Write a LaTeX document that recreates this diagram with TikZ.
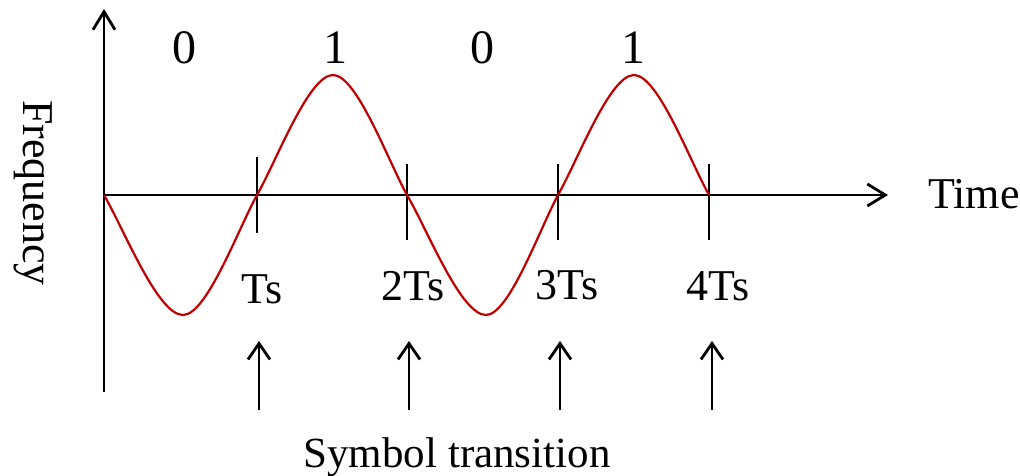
\documentclass[tikz,border=0pt]{standalone}
\usepackage{fontspec}
\setmainfont{Liberation Serif}
\usetikzlibrary{arrows.meta}
\definecolor{wavered}{RGB}{192,0,0}
\begin{document}
\begin{tikzpicture}[x=1pt,y=-1pt,
  axis/.style={line width=2.8pt,-{Straight Barb[length=18pt,width=22pt,line width=2.8pt]}},
  tick/.style={line width=2.6pt},
  marker/.style={line width=2.8pt,-{Straight Barb[length=16pt,width=22pt,line width=2.8pt]}},
  wave/.style={wavered,line width=2.2pt,line join=round},
  lbl/.style={inner sep=0pt,anchor=base,font=\fontsize{44}{48}\selectfont},
  bit/.style={inner sep=0pt,anchor=base,font=\fontsize{48}{52}\selectfont}]
\useasboundingbox (0,0) rectangle (1020,476);
% axes
\coordinate (O) at (104,195);
\coordinate (ybot) at (104,392);
\coordinate (ytop) at (104,9);
\coordinate (xend) at (888,195);
\draw[axis] (ybot) -- (ytop);
\draw[axis] (O) -- (xend);
% ticks
\coordinate (t1a) at (257,157); \coordinate (t1b) at (257,233);
\coordinate (t2a) at (407,164); \coordinate (t2b) at (407,240);
\coordinate (t3a) at (558,164); \coordinate (t3b) at (558,240);
\coordinate (t4a) at (709,164); \coordinate (t4b) at (709,240);
\draw[tick] (t1a) -- (t1b);
\draw[tick] (t2a) -- (t2b);
\draw[tick] (t3a) -- (t3b);
\draw[tick] (t4a) -- (t4b);
% wave
\coordinate (c0) at (104,195);
\coordinate (p1) at (183,315);
\coordinate (c1) at (257,195);
\coordinate (p2) at (333,75);
\coordinate (c2) at (407,195);
\coordinate (p3) at (486,315);
\coordinate (c3) at (558,195);
\coordinate (p4) at (634,75);
\coordinate (c4) at (709,195);
\draw[wave] (c0)
  .. controls (124.2,229.8) and (157.7,315) .. (p1)
  .. controls (206.7,315) and (237.8,229.8) .. (c1)
  .. controls (276.8,160.2) and (308.7,75) .. (p2)
  .. controls (356.7,75) and (387.8,160.2) .. (c2)
  .. controls (427.5,229.8) and (460.7,315) .. (p3)
  .. controls (509,315) and (539.3,229.8) .. (c3)
  .. controls (577.8,160.2) and (609.7,75) .. (p4)
  .. controls (658,75) and (689.5,160.2) .. (c4);
% bits
\node[bit] (b1) at (184,64) {0};
\node[bit] (b2) at (335,64) {1};
\node[bit] (b3) at (482,64) {0};
\node[bit] (b4) at (633,64) {1};
% labels
\node[lbl,anchor=base west] (time) at (928,208) {Time};
\node[lbl,rotate=-90,anchor=center] (freq) at (33,193) {Frequency};
\node[lbl] (ts1) at (262,303) {Ts};
\node[lbl] (ts2) at (413,300) {2Ts};
\node[lbl] (ts3) at (567,299) {3Ts};
\node[lbl] (ts4) at (718,300) {4Ts};
% symbol transition arrows
\coordinate (a1b) at (259,410); \coordinate (a1t) at (259,341);
\coordinate (a2b) at (409,410); \coordinate (a2t) at (409,341);
\coordinate (a3b) at (560,410); \coordinate (a3t) at (560,341);
\coordinate (a4b) at (712,410); \coordinate (a4t) at (712,341);
\draw[marker] (a1b) -- (a1t);
\draw[marker] (a2b) -- (a2t);
\draw[marker] (a3b) -- (a3t);
\draw[marker] (a4b) -- (a4t);
\node[lbl,font=\fontsize{43}{46}\selectfont] (sym) at (457,467) {Symbol transition};
\end{tikzpicture}
\end{document}
